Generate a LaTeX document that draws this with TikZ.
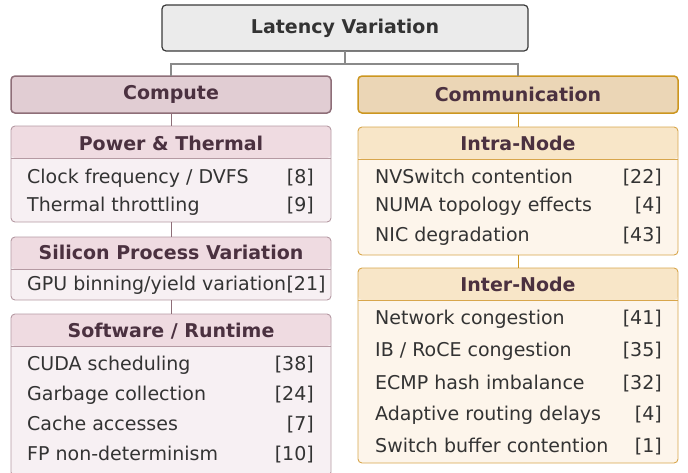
\documentclass[tikz,border=0pt]{standalone}
\usepackage{fontspec}
\setmainfont{DejaVu Sans}
\usepackage{tikz}
\usetikzlibrary{positioning}

\definecolor{rootfill}{HTML}{EBEBEB}
\definecolor{rootline}{HTML}{3A3A3A}
\definecolor{treeline}{HTML}{8A8A8A}
\definecolor{cfill}{HTML}{E1CDD3}
\definecolor{cline}{HTML}{8E6E78}
\definecolor{phead}{HTML}{EFDBE1}
\definecolor{pbody}{HTML}{F7F0F3}
\definecolor{pline}{HTML}{B59AA3}
\definecolor{mfill}{HTML}{EBD6B6}
\definecolor{mline}{HTML}{CC961F}
\definecolor{ihead}{HTML}{F8E6C8}
\definecolor{ibody}{HTML}{FDF5EB}
\definecolor{iline}{HTML}{D8A64C}
\definecolor{htext}{HTML}{4B3140}
\definecolor{itext}{HTML}{333333}

\begin{document}
\begin{tikzpicture}[
  x=1pt, y=-1pt,
  font=\fontsize{19pt}{22pt}\selectfont,
  rootbox/.style={draw=rootline, fill=rootfill, line width=1.2pt, rounded corners=4pt, minimum width=366pt, minimum height=46pt, outer sep=0pt, text=itext, font=\fontsize{19pt}{22pt}\selectfont\bfseries},
  catbox/.style={line width=1.5pt, rounded corners=4pt, minimum width=320pt, minimum height=37pt, outer sep=0pt, text=htext, font=\fontsize{19pt}{22pt}\selectfont\bfseries},
  pgroup/.style={draw=pline, fill=pbody, line width=0.9pt, rounded corners=4pt, minimum width=320pt, anchor=north, outer sep=0pt,
    path picture={\fill[phead] (path picture bounding box.north west) rectangle ([yshift=-32pt]path picture bounding box.north east);
      \draw[pline, line width=0.9pt] ([yshift=-32pt]path picture bounding box.north west) -- ([yshift=-32pt]path picture bounding box.north east);}},
  igroup/.style={draw=iline, fill=ibody, line width=0.9pt, rounded corners=4pt, minimum width=320pt, anchor=north, outer sep=0pt,
    path picture={\fill[ihead] (path picture bounding box.north west) rectangle ([yshift=-32pt]path picture bounding box.north east);
      \draw[iline, line width=0.9pt] ([yshift=-32pt]path picture bounding box.north west) -- ([yshift=-32pt]path picture bounding box.north east);}},
  title/.style={anchor=base, inner sep=0pt, text=htext, font=\fontsize{19pt}{22pt}\selectfont\bfseries},
  item/.style={anchor=base west, inner sep=0pt, text=itext},
  ref/.style={anchor=base east, inner sep=0pt, text=itext},
  tree/.style={treeline, line width=1.1pt},
]
\useasboundingbox (0,0) rectangle (688,472);

% top level
\node[rootbox] (root) at (345,28) {Latency Variation};
\node[catbox, draw=cline, fill=cfill] (compute) at (171,94.5) {Compute};
\node[catbox, draw=mline, fill=mfill] (comm) at (518,94.5) {Communication};

\draw[tree] (root.south) -- ++(0,13) -| (compute.north);
\draw[tree] (root.south) -- ++(0,13) -| (comm.north);

% compute side
\node[pgroup, minimum height=96pt] (power) at (171,126) {};
\node[pgroup, minimum height=63pt] (silicon) at (171,237) {};
\node[pgroup, minimum height=162pt] (software) at (171,314) {};

\draw[cline, line width=1pt] (compute) -- (power);
\draw[cline, line width=1pt] (power) -- (silicon);
\draw[cline, line width=1pt] (silicon) -- (software);

\node[title] (powert) at ([yshift=-24.5pt]power.north) {Power \& Thermal};
\node[item] (pw1) at (27,183.3) {Clock frequency / DVFS};
\node[ref] (pw1r) at (314,183.3) {[8]};
\node[item] (pw2) at (27,211.7) {Thermal throttling};
\node[ref] (pw2r) at (314,211.7) {[9]};

\node[title] (silicont) at ([yshift=-22.5pt]silicon.north) {Silicon Process Variation};
\node[item] (si1) at (27,290.7) {GPU binning/yield variation};
\node[item] (si1r) at (si1.base east) {[21]};

\node[title] (softwaret) at ([yshift=-23.5pt]software.north) {Software / Runtime};
\node[item] (sw1) at (27,370) {CUDA scheduling};
\node[ref] (sw1r) at (314,370) {[38]};
\node[item] (sw2) at (27,400) {Garbage collection};
\node[ref] (sw2r) at (314,400) {[24]};
\node[item] (sw3) at (27,430) {Cache accesses};
\node[ref] (sw3r) at (314,430) {[7]};
\node[item] (sw4) at (27,460) {FP non-determinism};
\node[ref] (sw4r) at (314,460) {[10]};

% communication side
\node[igroup, minimum height=128pt] (intra) at (518,127) {};
\node[igroup, minimum height=195pt] (inter) at (518,268) {};

\draw[mline, line width=1pt] (comm) -- (intra);
\draw[mline, line width=1pt] (intra) -- (inter);

\node[title] (intrat) at ([yshift=-23.7pt]intra.north) {Intra-Node};
\node[item] (in1) at (375,183.3) {NVSwitch contention};
\node[ref] (in1r) at (662,183.3) {[22]};
\node[item] (in2) at (375,211.7) {NUMA topology effects};
\node[ref] (in2r) at (662,211.7) {[4]};
\node[item] (in3) at (375,241.7) {NIC degradation};
\node[ref] (in3r) at (662,241.7) {[43]};

\node[title] (intert) at ([yshift=-23.7pt]inter.north) {Inter-Node};
\node[item] (ex1) at (375,324) {Network congestion};
\node[ref] (ex1r) at (662,324) {[41]};
\node[item] (ex2) at (375,356.7) {IB / RoCE congestion};
\node[ref] (ex2r) at (662,356.7) {[35]};
\node[item] (ex3) at (375,389) {ECMP hash imbalance};
\node[ref] (ex3r) at (662,389) {[32]};
\node[item] (ex4) at (375,420) {Adaptive routing delays};
\node[ref] (ex4r) at (662,420) {[4]};
\node[item] (ex5) at (375,452.7) {Switch buffer contention};
\node[ref] (ex5r) at (662,452.7) {[1]};
\end{tikzpicture}
\end{document}
